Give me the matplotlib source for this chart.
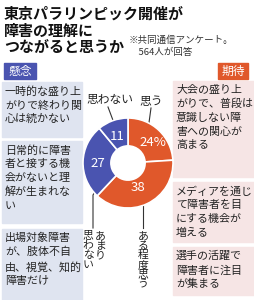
import matplotlib.pyplot as plt
from matplotlib.patches import Rectangle

plt.rcParams['font.family'] = ['Noto Sans CJK JP', 'DejaVu Sans']

title_lines = ["東京パラリンピック開催が", "障害の理解に", "つながると思うか"]
note_lines = ["※共同通信アンケート。", "　564人が回答"]

answers = ["思う", "ある程度思う", "あまり思わない", "思わない"]
shares = [24, 38, 27, 11]
share_labels = ["24%", "38", "27", "11"]

concern_title = "懸念"
concerns = [
    "一時的な盛り上\nがりで終わり関\n心は続かない",
    "日常的に障害\n者と接する機\n会がないと理\n解が生まれな\nい",
    "出場対象障害\nが、肢体不自\n由、視覚、知的\n障害だけ",
]
hope_title = "期待"
hopes = [
    "大会の盛り上\nがりで、普段は\n意識しない障\n害への関心が\n高まる",
    "メディアを通じ\nて障害者を目\nにする機会が\n増える",
    "選手の活躍で\n障害者に注目\nが集まる",
]

W, H = 254, 300
ORANGE = "#e0582b"
BLUE = "#4a54b0"
TXT = "#222222"

fig = plt.figure(figsize=(W / 100, H / 100), dpi=100)
bg = fig.add_axes([0, 0, 1, 1])
bg.set_xlim(0, W)
bg.set_ylim(H, 0)
bg.axis("off")

# title + note
for i, line in enumerate(title_lines):
    bg.text(4, 14 + i * 16.5, line, fontsize=10.8, fontweight="bold",
            color="#111111", va="center", ha="left")
for i, line in enumerate(note_lines):
    bg.text(129, 40 + i * 12, line, fontsize=6.8, color="#333333",
            va="center", ha="left")

# header tags
bg.add_patch(Rectangle((4, 63), 32, 16, color=BLUE))
bg.text(20, 71, concern_title, color="white", fontsize=8.5, ha="center", va="center")
bg.add_patch(Rectangle((218, 63), 30, 16, color=ORANGE))
bg.text(233, 71, hope_title, color="white", fontsize=8.5, ha="center", va="center")

# side boxes
left_boxes = [(82, 137), (141, 223), (229, 300)]
right_boxes = [(81, 177), (182, 242), (247, 295)]
for (y0, y1), txt in zip(left_boxes, concerns):
    bg.add_patch(Rectangle((2, y0), 80, y1 - y0, color="#dfe4f0"))
    bg.text(5, y0 + 4, txt, fontsize=7.9, color=TXT, va="top", ha="left",
            linespacing=1.45)
for (y0, y1), txt in zip(right_boxes, hopes):
    bg.add_patch(Rectangle((173, y0), 81, y1 - y0, color="#f6e5e5"))
    bg.text(176, y0 + 4, txt, fontsize=7.9, color=TXT, va="top", ha="left",
            linespacing=1.45)

# donut
cx, cy, r = 128, 163, 45
pax = fig.add_axes([(cx - r) / W, (H - cy - r) / H, 2 * r / W, 2 * r / H])
wedges, _ = pax.pie(shares, colors=[ORANGE, ORANGE, BLUE, BLUE], startangle=90,
                    counterclock=False, radius=1,
                    wedgeprops=dict(width=0.62, edgecolor="white", linewidth=1.2))
pax.set_xlim(-1, 1)
pax.set_ylim(-1, 1)
pax.axis("off")
label_pos = [(0.55, 0.45), (0.22, -0.55), (-0.68, -0.02), (-0.25, 0.58)]
for (x, y), lab in zip(label_pos, share_labels):
    pax.text(x, y, lab, color="white", fontsize=9.5, ha="center", va="center")

# answer labels and leader lines
bg.text(151, 102, answers[0], fontsize=8.5, color=TXT, ha="center", va="center")
bg.plot([151, 148], [108, 130], color="#333333", lw=0.8)
bg.text(110, 100, answers[3], fontsize=8.5, color=TXT, ha="center", va="center")
bg.plot([108, 114], [107, 123], color="#333333", lw=0.8)

vkw = dict(fontsize=7.8, color=TXT, ha="center", va="top", linespacing=0.95)
bg.plot([143, 143], [200, 228], color="#333333", lw=0.8)
bg.text(143, 231, "\n".join(answers[1]), **vkw)
bg.plot([99, 93, 93], [185, 195, 228], color="#333333", lw=0.8)
bg.text(100, 231, "\n".join(answers[2][:3]), **vkw)
bg.text(88, 231, "\n".join(answers[2][3:]), **vkw)

fig.savefig("out.png", dpi=100)
